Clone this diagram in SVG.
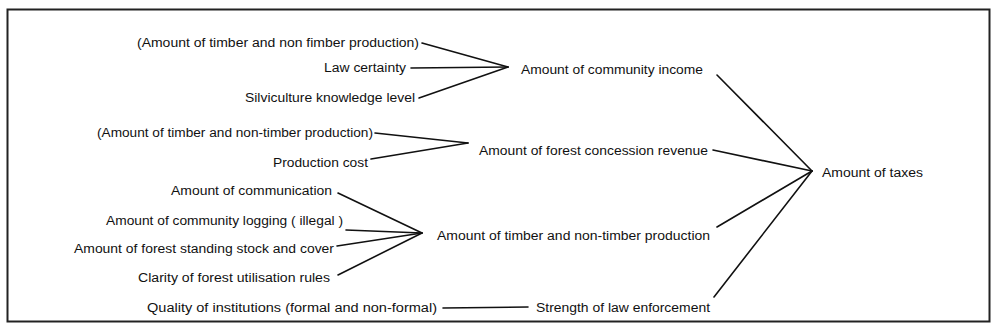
<svg xmlns="http://www.w3.org/2000/svg" width="993" height="331" viewBox="0 0 993 331">
  <style>
    text { font-family: "Liberation Sans", Arial, sans-serif; font-size: 12.5px; fill: #111; }
    .link { stroke: #111; stroke-width: 1.6; fill: none; stroke-linecap: round; }
    .frame { fill: #fff; stroke: #222; stroke-width: 2; }
  </style>
  <rect class="frame" x="7.5" y="9.5" width="982" height="312"/>

  <!-- factor nodes: left column -->
  <g id="n-timber-nonfimber"><text x="137" y="47" textLength="282" lengthAdjust="spacingAndGlyphs">(Amount of timber and non fimber production)</text></g>
  <g id="n-law-certainty"><text x="324" y="72" textLength="82" lengthAdjust="spacingAndGlyphs">Law certainty</text></g>
  <g id="n-silviculture"><text x="245" y="102" textLength="170" lengthAdjust="spacingAndGlyphs">Silviculture knowledge level</text></g>
  <g id="n-timber-nontimber"><text x="97" y="137" textLength="276" lengthAdjust="spacingAndGlyphs">(Amount of timber and non-timber production)</text></g>
  <g id="n-production-cost"><text x="273" y="167" textLength="95" lengthAdjust="spacingAndGlyphs">Production cost</text></g>
  <g id="n-communication"><text x="171" y="195" textLength="161" lengthAdjust="spacingAndGlyphs">Amount of communication</text></g>
  <g id="n-community-logging"><text x="106" y="225" textLength="237" lengthAdjust="spacingAndGlyphs">Amount of community logging ( illegal )</text></g>
  <g id="n-standing-stock"><text x="74" y="253" textLength="260" lengthAdjust="spacingAndGlyphs">Amount of forest standing stock and cover</text></g>
  <g id="n-utilisation-rules"><text x="138" y="282" textLength="192" lengthAdjust="spacingAndGlyphs">Clarity of forest utilisation rules</text></g>
  <g id="n-institutions"><text x="147" y="312" textLength="290" lengthAdjust="spacingAndGlyphs">Quality of institutions (formal and non-formal)</text></g>

  <!-- intermediate nodes -->
  <g id="n-community-income"><text x="521" y="74" textLength="182" lengthAdjust="spacingAndGlyphs">Amount of community income</text></g>
  <g id="n-concession-revenue"><text x="479" y="155" textLength="229" lengthAdjust="spacingAndGlyphs">Amount of forest concession revenue</text></g>
  <g id="n-production"><text x="437" y="240" textLength="273" lengthAdjust="spacingAndGlyphs">Amount of timber and non-timber production</text></g>
  <g id="n-law-enforcement"><text x="536" y="312" textLength="174" lengthAdjust="spacingAndGlyphs">Strength of law enforcement</text></g>

  <!-- outcome node -->
  <g id="n-taxes"><text x="822" y="177" textLength="101" lengthAdjust="spacingAndGlyphs">Amount of taxes</text></g>

  <!-- connectors -->
  <g id="connectors">
    <line class="link" x1="422" y1="43" x2="508" y2="67"/>
    <line class="link" x1="411" y1="68" x2="508" y2="67"/>
    <line class="link" x1="419" y1="98" x2="508" y2="67"/>

    <line class="link" x1="375" y1="133" x2="468" y2="143"/>
    <line class="link" x1="371" y1="159" x2="468" y2="143"/>

    <line class="link" x1="338" y1="193" x2="422" y2="233"/>
    <line class="link" x1="346" y1="230" x2="422" y2="233"/>
    <line class="link" x1="337" y1="246" x2="422" y2="233"/>
    <line class="link" x1="338" y1="275" x2="422" y2="233"/>

    <line class="link" x1="443" y1="308" x2="528" y2="307"/>

    <line class="link" x1="717" y1="75" x2="812" y2="171"/>
    <line class="link" x1="713" y1="150" x2="812" y2="171"/>
    <line class="link" x1="717" y1="227" x2="812" y2="171"/>
    <line class="link" x1="714" y1="297" x2="812" y2="171"/>
  </g>
</svg>
